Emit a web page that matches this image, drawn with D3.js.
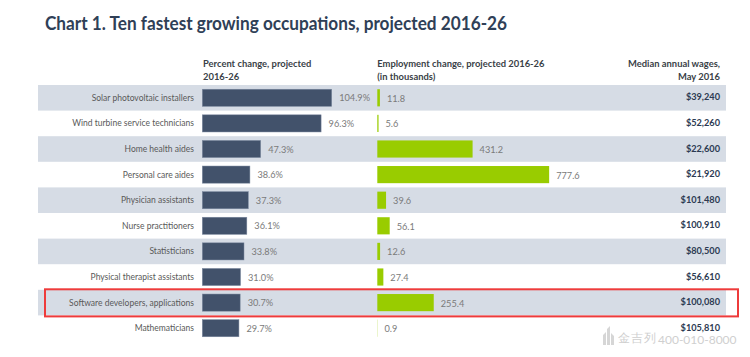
<!DOCTYPE html>
<html>
<head>
<meta charset="utf-8">
<script src="https://cdn.jsdelivr.net/npm/d3@7"></script>
<style>
  html, body { margin: 0; padding: 0; background: #ffffff; }
  svg { display: block; }
  text { font-family: Lato, "Open Sans", sans-serif; }
</style>
</head>
<body>
<svg id="chart" width="750" height="357"></svg>
<script>
const occupations = [
  "Solar photovoltaic installers",
  "Wind turbine service technicians",
  "Home health aides",
  "Personal care aides",
  "Physician assistants",
  "Nurse practitioners",
  "Statisticians",
  "Physical therapist assistants",
  "Software developers, applications",
  "Mathematicians"
];
const percentChange = [104.9, 96.3, 47.3, 38.6, 37.3, 36.1, 33.8, 31.0, 30.7, 29.7];
const employmentChange = [11.8, 5.6, 431.2, 777.6, 39.6, 56.1, 12.6, 27.4, 255.4, 0.9];
const medianWages = ["$39,240", "$52,260", "$22,600", "$21,920", "$101,480", "$100,910", "$80,500", "$56,610", "$100,080", "$105,810"];
const highlighted = "Software developers, applications";

const titleText = "Chart 1. Ten fastest growing occupations, projected 2016-26";
const header1 = ["Percent change, projected", "2016-26"];
const header2 = ["Employment change, projected 2016-26", "(in thousands)"];
const header3 = ["Median annual wages,", "May 2016"];
const watermark = ["金吉列", "400-010-8000"];

const svg = d3.select("#chart");

// scales
const y = d3.scaleBand().domain(occupations).range([85, 341]).paddingInner(0).paddingOuter(0);
const barPad = 0.33;
const xPct = d3.scaleLinear().domain([0, 100]).range([202.3, 202.3 + 123.36]);
const xEmp = d3.scaleLinear().domain([0, 1000]).range([377.3, 377.3 + 221]);

const rows = occupations.map((o, i) => ({
  name: o, pct: percentChange[i], emp: employmentChange[i], wage: medianWages[i], i
}));

// title
svg.append("text")
  .attr("x", 45).attr("y", 30)
  .attr("font-size", 19.5).attr("font-weight", 700)
  .attr("fill", "#2f4057")
  .attr("textLength", 462).attr("lengthAdjust", "spacingAndGlyphs")
  .text(titleText);

// headers
const hdr = svg.append("g").attr("font-size", 9.4).attr("font-weight", 700).attr("fill", "#3a3f47");
header1.forEach((t, k) => hdr.append("text").attr("x", xPct(0) + 0.7).attr("y", 67 + k * 12.5).text(t));
header2.forEach((t, k) => hdr.append("text").attr("x", xEmp(0)).attr("y", 67 + k * 12.5).text(t));
header3.forEach((t, k) => hdr.append("text").attr("x", 720).attr("y", 67 + k * 12.5).attr("text-anchor", "end").text(t));

// row bands
svg.append("g").selectAll("rect")
  .data(rows.filter(d => d.i % 2 === 0))
  .join("rect")
  .attr("x", 38).attr("width", 688)
  .attr("y", d => y(d.name)).attr("height", y.bandwidth())
  .attr("fill", "#d6dce5");

// row labels
svg.append("g").selectAll("text")
  .data(rows).join("text")
  .attr("x", 194)
  .attr("y", d => y(d.name) + y.bandwidth() / 2 + 3)
  .attr("text-anchor", "end")
  .attr("font-size", 8.5)
  .attr("fill", "#595959")
  .text(d => d.name);

const bh = y.bandwidth() * (1 - barPad);
const boff = (y.bandwidth() - bh) / 2;

// percent bars
svg.append("g").selectAll("rect")
  .data(rows).join("rect")
  .attr("x", xPct(0))
  .attr("y", d => y(d.name) + boff)
  .attr("width", d => xPct(d.pct) - xPct(0))
  .attr("height", bh)
  .attr("fill", "#42526b")
  .attr("stroke", "#7d8aa0").attr("stroke-width", 0.5);

svg.append("g").selectAll("text")
  .data(rows).join("text")
  .attr("x", d => xPct(d.pct) + 7.5)
  .attr("y", d => y(d.name) + y.bandwidth() / 2 + 3.5)
  .attr("font-size", 9.2)
  .attr("fill", "#7a7a7a")
  .text(d => d3.format(".1f")(d.pct) + "%");

// employment bars
svg.append("g").selectAll("rect")
  .data(rows).join("rect")
  .attr("x", xEmp(0))
  .attr("y", d => y(d.name) + boff)
  .attr("width", d => xEmp(d.emp) - xEmp(0))
  .attr("height", bh)
  .attr("fill", "#99cc00");

svg.append("g").selectAll("text")
  .data(rows).join("text")
  .attr("x", d => xEmp(d.emp) + 7)
  .attr("y", d => y(d.name) + y.bandwidth() / 2 + 4)
  .attr("font-size", 9.2)
  .attr("fill", "#7a7a7a")
  .text(d => d3.format(".1f")(d.emp));

// wages
svg.append("g").selectAll("text")
  .data(rows).join("text")
  .attr("x", 720)
  .attr("y", d => y(d.name) + y.bandwidth() / 2 + 2.5)
  .attr("text-anchor", "end")
  .attr("font-size", 9.2)
  .attr("font-weight", 700)
  .attr("fill", "#2c3a52")
  .text(d => d.wage);

// highlight box
const hy = y(highlighted);
svg.append("rect")
  .attr("x", 45).attr("y", hy - 0.5)
  .attr("width", 693).attr("height", y.bandwidth() + 1.5)
  .attr("fill", "none")
  .attr("stroke", "#ee3b3b").attr("stroke-width", 2);

// watermark
const wm = svg.append("g").attr("fill", "#cfcfcf");
wm.append("path")
  .attr("d", "M603,345 L603,335 L606,332 L606,345 Z M607,345 L607,329 L610,326 L610,345 Z M611,345 L611,333 L614,336 L614,345 Z")
  .attr("fill", "#d6d6d6");
wm.append("text").attr("x", 618).attr("y", 342).attr("font-size", 12)
  .attr("font-family", "'Noto Sans CJK SC', sans-serif").attr("letter-spacing", 1).text(watermark[0]);
wm.append("text").attr("x", 658).attr("y", 343.5).attr("font-size", 12)
  .attr("font-family", "'Liberation Sans', Arial, sans-serif").text(watermark[1]);
</script>
</body>
</html>
